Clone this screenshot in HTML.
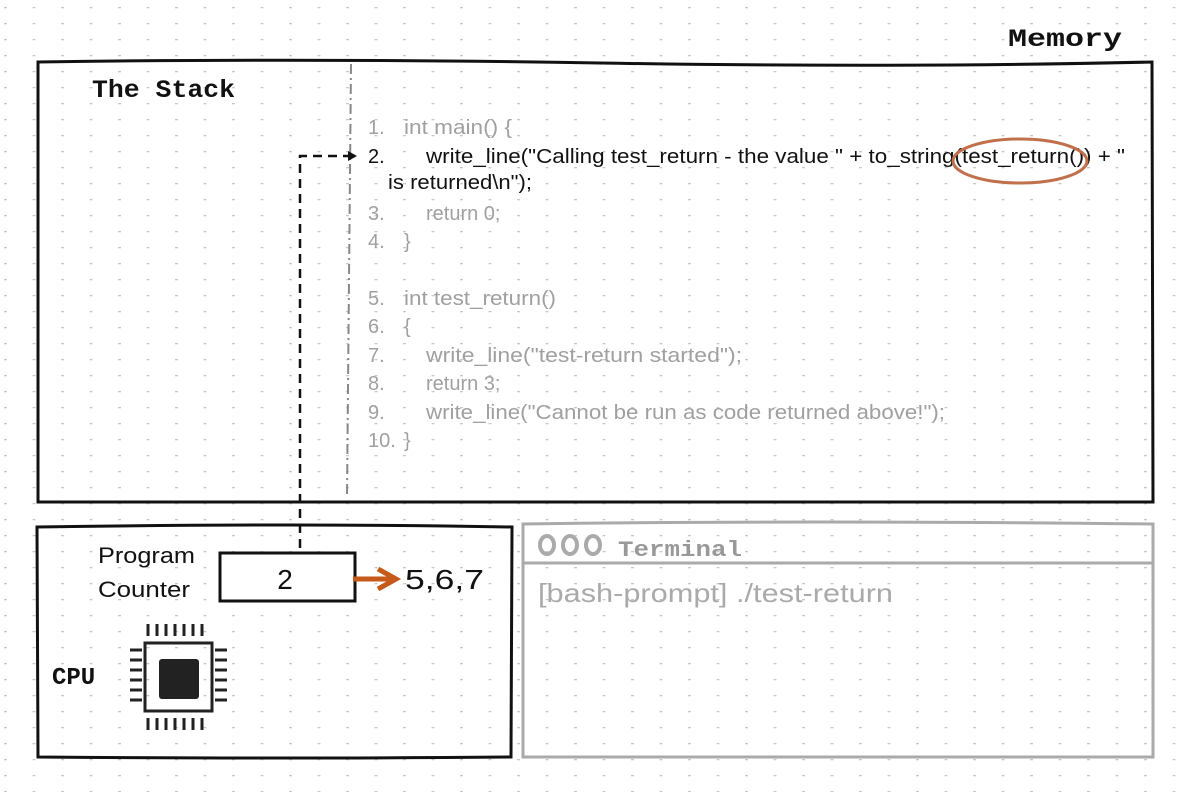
<!DOCTYPE html>
<html><head><meta charset="utf-8"><style>
html,body{margin:0;padding:0;background:#fff}
svg{display:block}
text{font-family:"Liberation Sans",sans-serif}
.h{font-family:"Liberation Mono",monospace;font-weight:bold}
</style></head><body>
<svg width="1188" height="792" viewBox="0 0 1188 792" xmlns="http://www.w3.org/2000/svg">
<defs>
<pattern id="g" width="28.5" height="16" patternUnits="userSpaceOnUse">
<rect x="4" y="7" width="3" height="1.3" fill="#c8c8c8"/>
</pattern>
<marker id="ah" markerWidth="10" markerHeight="10" refX="8" refY="5" orient="auto" markerUnits="userSpaceOnUse"><path d="M0,0 L9,5 L0,10 z" fill="#111"/></marker>
</defs>
<rect width="1188" height="792" fill="url(#g)"/>
<text x="1008" y="46" font-size="25" class="h" fill="#111" textLength="114" lengthAdjust="spacingAndGlyphs">Memory</text>
<path d="M38,62 Q300,58 600,63 T1152,62 L1153,502 Q700,500 38,502 Z" fill="none" stroke="#111" stroke-width="3"/>
<text x="92" y="97" font-size="25" class="h" fill="#111" textLength="143" lengthAdjust="spacingAndGlyphs">The Stack</text>
<line x1="351" y1="64" x2="347" y2="496" stroke="#888" stroke-width="2" stroke-dasharray="10,4,2,4"/>
<g font-size="20" fill="#a0a0a0">
<text x="368" y="134">1.</text><text x="404" y="134" textLength="108" lengthAdjust="spacingAndGlyphs">int main() {</text>
<text x="368" y="163" fill="#111">2.</text><text x="426" y="163" fill="#111" textLength="699" lengthAdjust="spacingAndGlyphs">write_line("Calling test_return - the value " + to_string(test_return()) + "</text>
<text x="388" y="189" fill="#111" textLength="144" lengthAdjust="spacingAndGlyphs">is returned\n");</text>
<text x="368" y="220">3.</text><text x="426" y="220">return 0;</text>
<text x="368" y="248">4.</text><text x="404" y="248">}</text>
<text x="368" y="305">5.</text><text x="404" y="305" textLength="152" lengthAdjust="spacingAndGlyphs">int test_return()</text>
<text x="368" y="333">6.</text><text x="404" y="333">{</text>
<text x="368" y="362">7.</text><text x="426" y="362" textLength="316" lengthAdjust="spacingAndGlyphs">write_line("test-return started");</text>
<text x="368" y="390">8.</text><text x="426" y="390">return 3;</text>
<text x="368" y="419">9.</text><text x="426" y="419" textLength="519" lengthAdjust="spacingAndGlyphs">write_line("Cannot be run as code returned above!");</text>
<text x="368" y="447">10.</text><text x="404" y="447">}</text>
</g>
<ellipse cx="1020" cy="161" rx="67" ry="22" fill="none" stroke="#c0704a" stroke-width="3"/>
<path d="M300,548 L300,156 L356,156" fill="none" stroke="#111" stroke-width="2.5" stroke-dasharray="9,6" marker-end="url(#ah)"/>
<path d="M37,527 Q300,523 512,527 L511,757 Q300,759 38,757 Z" fill="none" stroke="#111" stroke-width="3"/>
<text x="98" y="563" font-size="22" fill="#111" textLength="97" lengthAdjust="spacingAndGlyphs">Program</text>
<text x="98" y="597" font-size="22" fill="#111" textLength="92" lengthAdjust="spacingAndGlyphs">Counter</text>
<rect x="220" y="553" width="135" height="48" fill="#fff" stroke="#111" stroke-width="3"/>
<text x="285" y="589" font-size="28" fill="#111" text-anchor="middle">2</text>
<path d="M353,579 L392,579" stroke="#c55a1a" stroke-width="5"/>
<path d="M378,569 L396,579 L378,589" fill="none" stroke="#c55a1a" stroke-width="5"/>
<text x="405" y="589" font-size="28" fill="#111" textLength="79" lengthAdjust="spacingAndGlyphs">5,6,7</text>
<text x="52" y="684" font-size="24" class="h" fill="#111">CPU</text>
<g stroke="#222" stroke-width="3" fill="none">
<rect x="145" y="643" width="67" height="68"/>
<path d="M148,636v-12M157,636v-12M166,636v-12M175,636v-12M184,636v-12M193,636v-12M202,636v-12M148,718v12M157,718v12M166,718v12M175,718v12M184,718v12M193,718v12M202,718v12M130,650h12M130,660h12M130,670h12M130,680h12M130,690h12M130,700h12M215,650h12M215,660h12M215,670h12M215,680h12M215,690h12M215,700h12"/>
</g>
<rect x="159" y="659" width="40" height="40" rx="3" fill="#222"/>
<path d="M523,524 Q800,520 1153,524 L1153,757 L523,757 Z" fill="none" stroke="#aaa" stroke-width="3"/>
<line x1="523" y1="563" x2="1153" y2="563" stroke="#aaa" stroke-width="3"/>
<g fill="none" stroke="#aaa" stroke-width="4"><ellipse cx="547" cy="545" rx="7" ry="9"/><ellipse cx="570" cy="545" rx="7" ry="9"/><ellipse cx="593" cy="545" rx="7" ry="9"/></g>
<text x="618" y="556" font-size="22" class="h" fill="#999" textLength="124" lengthAdjust="spacingAndGlyphs">Terminal</text>
<text x="538" y="602" font-size="26" fill="#aaa" textLength="355" lengthAdjust="spacingAndGlyphs">[bash-prompt] ./test-return</text>
</svg>
</body></html>
